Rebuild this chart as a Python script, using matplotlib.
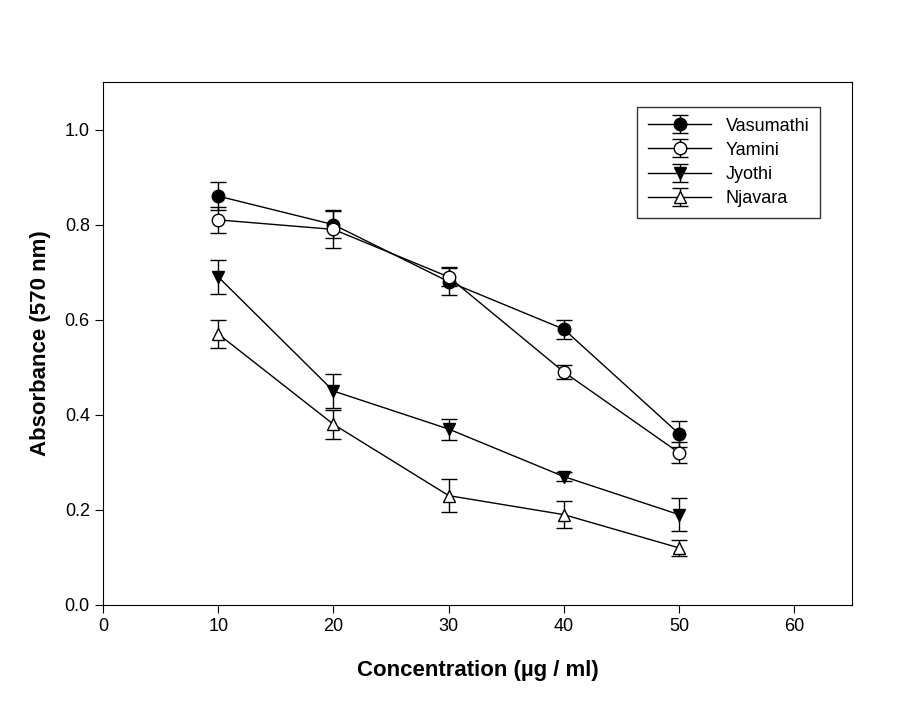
import numpy as np
import matplotlib.pyplot as plt

plt.rcParams["font.family"] = ["Liberation Sans", "DejaVu Sans"]

conc = [10, 20, 30, 40, 50]
vasumathi = [0.86, 0.80, 0.68, 0.58, 0.36]
vasumathi_err = [0.03, 0.028, 0.028, 0.02, 0.028]
yamini = [0.81, 0.79, 0.69, 0.49, 0.32]
yamini_err = [0.028, 0.04, 0.02, 0.015, 0.022]
jyothi = [0.69, 0.45, 0.37, 0.27, 0.19]
jyothi_err = [0.035, 0.035, 0.022, 0.01, 0.035]
njavara = [0.57, 0.38, 0.23, 0.19, 0.12]
njavara_err = [0.03, 0.03, 0.035, 0.028, 0.016]

fig = plt.figure(figsize=(9.24, 7.01), dpi=100)
ax = fig.add_axes([0.1115, 0.137, 0.8105, 0.746])

series = [
    ("Vasumathi", vasumathi, vasumathi_err, "o", "black"),
    ("Yamini", yamini, yamini_err, "o", "white"),
    ("Jyothi", jyothi, jyothi_err, "v", "black"),
    ("Njavara", njavara, njavara_err, "^", "white"),
]
for name, y, e, m, fc in series:
    ax.errorbar(conc, y, yerr=e, marker=m, markersize=9, mfc=fc, mec="black",
                color="black", lw=1, capsize=6, elinewidth=1, capthick=1, label=name)

ax.set_xlim(0, 65)
ax.set_ylim(0, 1.1)
ax.set_xticks([0, 10, 20, 30, 40, 50, 60])
ax.set_yticks([0.0, 0.2, 0.4, 0.6, 0.8, 1.0])
ax.set_yticklabels(["0.0", "0.2", "0.4", "0.6", "0.8", "1.0"])
ax.tick_params(direction="out", labelsize=13, length=6)
ax.set_xlabel("Concentration (\u00b5g / ml)", fontsize=16, fontweight="bold", labelpad=18)
ax.set_ylabel("Absorbance (570 nm)", fontsize=16, fontweight="bold", labelpad=10)

leg = ax.legend(loc="upper right", bbox_to_anchor=(0.97, 0.97), fontsize=13,
                frameon=True, fancybox=False, edgecolor="black", handlelength=3.5,
                borderpad=0.6, labelspacing=0.4)
leg.get_frame().set_linewidth(1)

fig.savefig("out.png", dpi=100)
